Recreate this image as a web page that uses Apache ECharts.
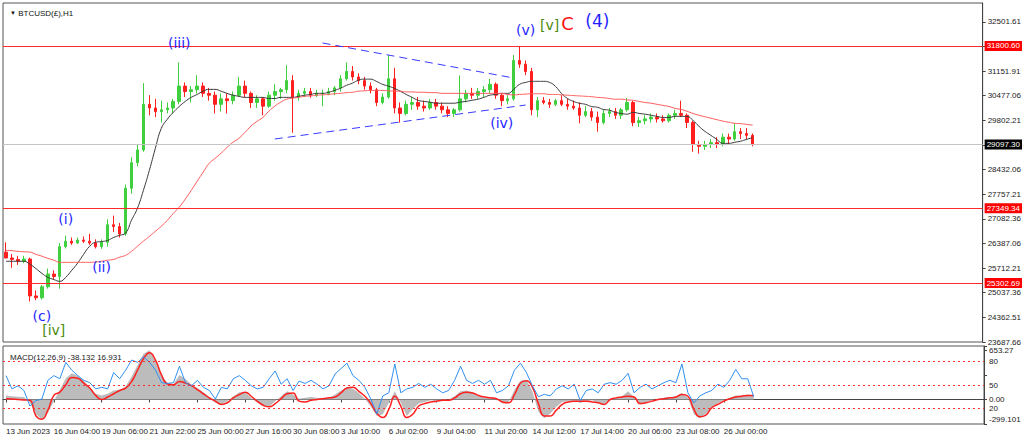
<!DOCTYPE html>
<html>
<head>
<meta charset="utf-8">
<title>BTCUSD(£),H1</title>
<script src="https://cdn.jsdelivr.net/npm/echarts@6/dist/echarts.min.js"></script>
<style>
  html, body { margin: 0; padding: 0; background: #fff; }
  #chart { width: 1024px; height: 441px; }
</style>
</head>
<body>
<div id="chart"></div>
<script>
// values, H1 bars grouped roughly 8 to a candle
var dateLabels = ['13 Jun 2023', '16 Jun 04:00', '19 Jun 06:00', '21 Jun 22:00', '25 Jun 00:00',
    '27 Jun 16:00', '30 Jun 08:00', '3 Jul 10:00', '6 Jul 02:00', '9 Jul 04:00', '11 Jul 20:00',
    '14 Jul 12:00', '17 Jul 14:00', '20 Jul 06:00', '23 Jul 08:00', '26 Jul 00:00'];

var opens = [26150, 25990, 25950, 25900, 25960, 24950, 24900, 25200, 25550, 25480,
    26300, 26450, 26400, 26480, 26450, 26400, 26300, 26420, 26900, 26850,
    26650, 27900, 28600, 28950, 30200, 30100, 30000, 30050, 30100, 30280,
    30700, 30550, 30600, 30700, 30500, 30450, 30200, 30350, 30300, 30450,
    30700, 30500, 30250, 30350, 30150, 30450, 30550, 30600, 30850, 30400,
    30500, 30550, 30450, 30500, 30500, 30550, 30650, 30900, 31100, 30950,
    30850, 30700, 30600, 30250, 30400, 30900, 30100, 29950, 30200, 30250,
    30150, 30100, 30250, 30150, 30050, 29950, 30050, 30350, 30500, 30450,
    30550, 30600, 30750, 30450, 30300, 30350, 31400, 31300, 31100, 30050,
    30300, 30250, 30200, 30300, 30200, 30150, 30100, 29900, 30000, 29850,
    29700, 29950, 30000, 29900, 30050, 30250, 29700, 29750, 29800, 29850,
    29800, 29750, 29900, 29950, 29900, 29700, 29100, 29050, 29100, 29150,
    29100, 29300, 29250, 29450, 29400, 29350];
var highs = [26420, 26100, 26050, 26050, 26000, 25100, 25250, 25700, 25650, 26400,
    26600, 26550, 26550, 26580, 26650, 26500, 26500, 27050, 27150, 26950,
    28000, 28750, 29100, 30780, 30450, 30350, 30300, 30250, 30350, 31350,
    30800, 30700, 31000, 30800, 30650, 30550, 30500, 30500, 30550, 30950,
    30850, 30550, 30450, 30400, 30550, 30750, 30650, 31270, 31000, 30600,
    30650, 30650, 30600, 30600, 30650, 30700, 31000, 31350, 31250, 31050,
    30950, 30800, 30650, 30500, 31550, 31200, 30250, 30300, 30400, 30400,
    30300, 30350, 30350, 30250, 30150, 30100, 30990, 30600, 30650, 30650,
    30700, 30900, 30800, 30500, 30450, 31550, 31800, 31400, 31200, 30400,
    30400, 30350, 30350, 30450, 30350, 30300, 30250, 30150, 30100, 30000,
    30050, 30100, 30100, 30100, 30380, 30300, 29850, 29900, 29950, 29950,
    29900, 29950, 30050, 30300, 29950, 29750, 29200, 29200, 29250, 29300,
    29400, 29400, 29680, 29550, 29550, 29400];
var lows = [25980, 25720, 25800, 25850, 24800, 24830, 24850, 25150, 25400, 25150,
    26250, 26350, 26380, 26400, 26350, 26250, 26240, 26300, 26700, 26550,
    26600, 27750, 28500, 28900, 29900, 29850, 29700, 29950, 29950, 30200,
    30400, 30250, 30500, 30400, 30300, 29950, 30000, 29950, 30200, 30400,
    30400, 30100, 30100, 29900, 30100, 30300, 30350, 30500, 29420, 30300,
    30400, 30380, 30400, 30150, 30450, 30450, 30550, 30850, 30850, 30750,
    30600, 30500, 30150, 30200, 30350, 29950, 29700, 29900, 30050, 30050,
    30000, 30050, 30050, 29950, 29850, 29850, 30000, 30250, 30350, 30350,
    30400, 30500, 30350, 30150, 30200, 30300, 31200, 31000, 29900, 29850,
    30200, 30100, 30150, 30150, 30050, 30050, 29680, 29850, 29750, 29450,
    29650, 29850, 29800, 29800, 30000, 29600, 29580, 29650, 29700, 29700,
    29700, 29700, 29800, 29850, 29550, 28900, 28850, 28950, 29000, 29000,
    29050, 29100, 29200, 29250, 29250, 29050];
var closes = [25990, 25950, 25900, 25960, 24950, 24900, 25200, 25550, 25480, 26300,
    26450, 26400, 26480, 26450, 26400, 26300, 26420, 26900, 26850, 26650,
    27900, 28600, 28950, 30200, 30100, 30000, 30050, 30100, 30280, 30700,
    30550, 30600, 30700, 30500, 30450, 30200, 30350, 30300, 30450, 30700,
    30500, 30250, 30350, 30150, 30450, 30550, 30600, 30850, 30400, 30500,
    30550, 30450, 30500, 30500, 30550, 30650, 30900, 31100, 30950, 30850,
    30700, 30600, 30250, 30400, 30900, 30100, 29950, 30200, 30250, 30150,
    30100, 30250, 30150, 30050, 29950, 30050, 30350, 30500, 30450, 30550,
    30600, 30750, 30450, 30300, 30350, 31400, 31300, 31100, 30050, 30300,
    30250, 30200, 30300, 30200, 30150, 30100, 29900, 30000, 29850, 29700,
    29950, 30000, 29900, 30050, 30250, 29700, 29750, 29800, 29850, 29800,
    29750, 29900, 29950, 29900, 29700, 29100, 29050, 29100, 29150, 29100,
    29300, 29250, 29450, 29400, 29350, 29097.3];

// black (fast) and red (slow) moving averages
var maFast = [25900, 25900, 25900, 25900, 25820, 25700, 25570, 25460, 25400, 25350,
    25460, 25650, 25850, 26090, 26310, 26420, 26440, 26470, 26550, 26610,
    26670, 27020, 27350, 27840, 28390, 28990, 29540, 29790, 29980, 30140,
    30280, 30390, 30470, 30560, 30610, 30610, 30560, 30500, 30450, 30420,
    30390, 30390, 30390, 30390, 30360, 30360, 30390, 30390, 30390, 30420,
    30450, 30470, 30500, 30500, 30530, 30580, 30640, 30720, 30780, 30860,
    30890, 30890, 30830, 30750, 30700, 30640, 30560, 30470, 30390, 30310,
    30280, 30260, 30230, 30230, 30230, 30230, 30260, 30280, 30310, 30340,
    30390, 30450, 30470, 30500, 30500, 30610, 30750, 30800, 30830, 30830,
    30830, 30800, 30690, 30500, 30360, 30280, 30230, 30200, 30140, 30120,
    30060, 30040, 29980, 29950, 29930, 29980, 29950, 29930, 29900, 29870,
    29840, 29840, 29870, 29870, 29870, 29760, 29600, 29460, 29350, 29240,
    29130, 29130, 29160, 29190, 29240, 29290];
var maSlow = [26200, 26190, 26170, 26160, 26150, 26090, 26040, 25980, 25930, 25870,
    25870, 25870, 25870, 25870, 25870, 25880, 25900, 25930, 25950, 26010,
    26060, 26170, 26310, 26450, 26580, 26720, 26860, 27020, 27210, 27380,
    27600, 27840, 28090, 28340, 28580, 28720, 28860, 29020, 29160, 29270,
    29430, 29600, 29730, 29840, 30010, 30150, 30260, 30340, 30370, 30390,
    30420, 30430, 30450, 30460, 30470, 30490, 30500, 30520, 30530, 30560,
    30570, 30580, 30580, 30580, 30570, 30560, 30560, 30540, 30540, 30530,
    30530, 30520, 30520, 30500, 30500, 30500, 30500, 30500, 30500, 30500,
    30500, 30500, 30500, 30500, 30470, 30460, 30470, 30480, 30490, 30490,
    30490, 30470, 30470, 30460, 30450, 30440, 30430, 30420, 30410, 30390,
    30380, 30360, 30340, 30340, 30320, 30310, 30280, 30250, 30230, 30200,
    30170, 30140, 30090, 30060, 30010, 29950, 29900, 29860, 29820, 29780,
    29740, 29710, 29680, 29670, 29650, 29630];

// lower pane: MACD histogram + signal, and the 0..100 oscillator (blue)
var macdHist = [50, 40, 35, 30, -40, -180, -240, -165, -20, 120,
    260, 320, 290, 230, 150, 70, 50, 70, 110, 120,
    160, 280, 420, 560, 600, 470, 290, 200, 190, 300,
    250, 180, 140, 90, 30, -40, -60, -20, 40, 90,
    90, 20, -40, -80, -90, -20, 40, 100, 60, 10,
    20, 30, 20, 10, 20, 60, 110, 150, 130, 80,
    10, -90, -200, -180, -40, 100, -40, -200, -120, -50,
    -30, -10, -20, -10, 0, 40, 100, 110, 90, 40,
    20, 30, 10, -50, -40, 120, 230, 240, 100, -150,
    -230, -170, -90, -30, -20, -20, -40, -20, -10, -50,
    -60, 10, 20, 40, 100, 30, -60, -40, -10, 10,
    20, 30, 40, 80, 20, -180, -230, -170, -110, -50,
    -10, 20, 50, 50, 60, 40];
var macdSignal = [10, 5, 0, -5, -10, -200, -240, -130, 50, 90,
    180, 270, 260, 200, 140, 50, 0, 30, 70, 110,
    140, 220, 360, 500, 570, 480, 300, 190, 180, 220,
    200, 170, 120, 70, 20, -20, -60, -40, 20, 60,
    90, 40, -20, -70, -90, -50, 10, 70, 80, -20,
    -30, -10, 0, 10, 20, 30, 80, 140, 150, 100,
    40, -50, -170, -220, -120, 40, -80, -220, -180, -80,
    -50, -30, -20, -10, -10, 20, 70, 90, 80, 50,
    30, 20, 10, -30, -40, 60, 200, 230, 150, -50,
    -200, -200, -130, -60, -30, -20, -20, -20, -30, -40,
    -60, 0, 20, 30, 40, 30, -50, -40, -20, 0,
    10, 20, 30, 60, 40, -120, -210, -190, -100, -60,
    -20, 10, 30, 40, 50, 50];
var oscLine = [62, 45, 49, 43, 23, 30, 32, 56, 62, 58,
    79, 69, 62, 56, 53, 45, 47, 45, 66, 58,
    69, 82, 79, 86, 79, 69, 53, 52, 53, 74,
    53, 49, 56, 47, 43, 32, 47, 45, 58, 62,
    56, 49, 45, 47, 58, 68, 51, 58, 43, 55,
    52, 56, 51, 45, 49, 64, 71, 78, 62, 56,
    47, 32, 13, 36, 40, 77, 40, 45, 47, 52,
    47, 51, 45, 40, 43, 56, 74, 56, 52, 56,
    51, 56, 40, 43, 49, 69, 78, 66, 49, 35,
    38, 36, 45, 49, 45, 51, 30, 43, 45, 40,
    51, 53, 51, 56, 65, 40, 47, 51, 45, 49,
    53, 56, 53, 77, 40, 27, 36, 40, 43, 51,
    47, 56, 70, 58, 58, 35];

var levels = [31800.60, 27349.34, 25302.69];
var lastPrice = 29097.30;
var oscLevels = [80, 50, 20];
var macdRange = [-299.101, 653.27];

// right scale labels as MT4 printed them; blanks sit under the level tags
var priceTicks = ['23687.66', '24362.51', '25037.36', '25712.21', '26387.06', '27082.36',
    '27757.21', '28432.06', '', '29802.21', '30477.06', '31151.91', '', '32501.61'];
var priceStep = 674.85;

// wave count labels: text, bar index, price
var waveText = ['(iii)', '(v)', '[v]', 'C', '(4)', '(iv)', '(i)', '(ii)', '(c)', '[iv]'];
var waveBar = [29, 87, 91, 94, 99, 83, 10, 16, 6, 8];
var wavePrice = [31880, 32236, 32373, 32401, 32483, 29688, 27058, 25743, 24400, 24016];

// triangle trend lines [bar, price]
var trendUpper = [[53, 31880], [85, 30921]];
var trendLower = [[45, 29250], [87, 30181]];

var BAR_SLOTS = 164; // includes the empty chart shift on the right

var FONT = 'Liberation Sans, DejaVu Sans, sans-serif';
var WAVE_FONT = 'DejaVu Sans, sans-serif';

var categories = [];
for (var i = 0; i < BAR_SLOTS; i++) categories.push('b' + i);

var candles = opens.map(function (o, i) {
    return [o, closes[i], lows[i], highs[i]];
});

var priceMin = parseFloat(priceTicks[0]);
var priceMax = priceMin + 339 * 27.4;

function isDateTick(index) {
    return index % 8 === 0 && index / 8 < dateLabels.length;
}

function waveStyle(t) {
    if (t === 'C') return { color: '#ff1010', fontSize: 18 };
    if (t === '(4)') return { color: '#1f1fff', fontSize: 17 };
    if (t.charAt(0) === '[') return { color: '#4b8b10', fontSize: 14 };
    return { color: '#2626ff', fontSize: 14 };
}

var wavePoints = waveText.map(function (t, i) {
    var st = waveStyle(t);
    return {
        coord: [waveBar[i], wavePrice[i]],
        symbol: 'circle',
        symbolSize: 1,
        itemStyle: { color: 'rgba(0,0,0,0)' },
        label: {
            show: true,
            position: 'inside',
            formatter: t,
            color: st.color,
            fontSize: st.fontSize,
            fontFamily: WAVE_FONT
        }
    };
});

var levelLines = levels.map(function (v) {
    return {
        yAxis: v,
        lineStyle: { color: '#ff2a2a', width: 1, type: 'solid' },
        label: {
            show: true, position: 'end', distance: 2,
            formatter: function (p) { return p.value.toFixed(2); },
            color: '#fff', backgroundColor: '#ff0000',
            fontSize: 8, fontFamily: FONT, padding: [1, 2]
        }
    };
});
levelLines.push({
    yAxis: lastPrice,
    lineStyle: { color: '#c4c4c4', width: 1, type: 'solid' },
    label: {
        show: true, position: 'end', distance: 2,
        formatter: function (p) { return p.value.toFixed(2); },
        color: '#fff', backgroundColor: '#000',
        fontSize: 8, fontFamily: FONT, padding: [1, 2]
    }
});
[trendUpper, trendLower].forEach(function (seg) {
    levelLines.push([
        { coord: seg[0], lineStyle: { color: '#3a3aff', width: 1, type: [8, 5] }, label: { show: false } },
        { coord: seg[1] }
    ]);
});

var chart = echarts.init(document.getElementById('chart'), null, { renderer: 'svg' });

chart.setOption({
    animation: false,
    backgroundColor: '#fff',
    title: [{
        text: '{a|▼} BTCUSD(£),H1',
        left: 5, top: 4,
        textStyle: { fontSize: 8, fontWeight: 'normal', color: '#111', fontFamily: FONT,
            rich: { a: { fontSize: 6, color: '#111' } } }
    }, {
        text: 'MACD(12,26,9) -38.132 16.931',
        left: 5, top: 348,
        textStyle: { fontSize: 8, fontWeight: 'normal', color: '#222', fontFamily: FONT }
    }],
    grid: [
        { left: 3, right: 40, top: 3, height: 339, show: true, borderColor: '#555', borderWidth: 1 },
        { left: 3, right: 40, top: 346, height: 78, show: true, borderColor: '#555', borderWidth: 1 }
    ],
    xAxis: [{
        type: 'category', gridIndex: 0, data: categories, boundaryGap: true,
        axisLine: { show: false }, axisTick: { show: false }, axisLabel: { show: false },
        splitLine: { show: false }
    }, {
        type: 'category', gridIndex: 1, data: categories, boundaryGap: true,
        axisLine: { show: true, lineStyle: { color: '#444' } },
        axisTick: { show: true, interval: isDateTick, alignWithLabel: true, length: 3,
            lineStyle: { color: '#444' } },
        axisLabel: {
            show: true, interval: isDateTick, align: 'left', margin: 3,
            fontSize: 8, color: '#222', fontFamily: FONT,
            formatter: function (v, idx) { return isDateTick(idx) ? dateLabels[idx / 8] : ''; }
        },
        splitLine: { show: false }
    }],
    yAxis: [{
        type: 'value', gridIndex: 0, position: 'right',
        min: priceMin, max: priceMax, interval: priceStep,
        axisLine: { show: true, lineStyle: { color: '#444' } },
        axisTick: { show: true, length: 3, lineStyle: { color: '#444' } },
        splitLine: { show: false },
        axisLabel: {
            margin: 5, fontSize: 8, color: '#222', fontFamily: FONT, showMaxLabel: false,
            formatter: function (v) {
                var k = Math.round((v - priceMin) / priceStep);
                if (Math.abs(v - (priceMin + k * priceStep)) > 0.5) return '';
                return priceTicks[k] || '';
            }
        }
    }, {
        type: 'value', gridIndex: 1, position: 'right',
        min: macdRange[0], max: macdRange[1], interval: -macdRange[0],
        axisLine: { show: true, lineStyle: { color: '#444' } },
        axisTick: { show: true, length: 3, lineStyle: { color: '#444' } },
        splitLine: { show: false },
        axisLabel: {
            margin: 5, fontSize: 8, color: '#222', fontFamily: FONT,
            formatter: function (v) {
                if (Math.abs(v - macdRange[1]) < 0.01) return '{top|' + macdRange[1].toFixed(2) + '}';
                if (Math.abs(v - macdRange[0]) < 0.01) return '{bot|' + macdRange[0].toFixed(3) + '}';
                if (Math.abs(v) < 0.01) return '0.00';
                return '';
            },
            rich: {
                top: { fontSize: 8, color: '#222', fontFamily: FONT, padding: [9, 0, 0, 0] },
                bot: { fontSize: 8, color: '#222', fontFamily: FONT, padding: [0, 0, 9, 0] }
            }
        }
    }, {
        type: 'value', gridIndex: 1, position: 'right',
        min: 0, max: 100, interval: 10,
        axisLine: { show: false }, axisTick: { show: false }, splitLine: { show: false },
        axisLabel: {
            margin: 5, fontSize: 8, color: '#222', fontFamily: FONT,
            formatter: function (v) { return oscLevels.indexOf(v) >= 0 ? String(v) : ''; }
        }
    }],
    series: [{
        type: 'candlestick', xAxisIndex: 0, yAxisIndex: 0,
        data: candles, barWidth: 3,
        itemStyle: { color: '#3fcf3f', color0: '#ff1f1f', borderColor: '#3fcf3f', borderColor0: '#ff1f1f', borderWidth: 1 },
        markLine: { symbol: 'none', silent: true, animation: false, data: levelLines },
        markPoint: { silent: true, animation: false, data: wavePoints }
    }, {
        type: 'line', xAxisIndex: 0, yAxisIndex: 0, data: maFast,
        showSymbol: false, smooth: true, lineStyle: { color: '#3a3a3a', width: 1 }, z: 3
    }, {
        type: 'line', xAxisIndex: 0, yAxisIndex: 0, data: maSlow,
        showSymbol: false, smooth: true, lineStyle: { color: '#ff5a5a', width: 1 }, z: 3
    }, {
        type: 'line', xAxisIndex: 1, yAxisIndex: 1, data: macdHist,
        showSymbol: false, lineStyle: { width: 0 },
        areaStyle: { color: '#bcbcbc', opacity: 1 }
    }, {
        type: 'line', xAxisIndex: 1, yAxisIndex: 1, data: macdSignal,
        showSymbol: false, smooth: true, lineStyle: { color: '#ff2020', width: 1.5 }
    }, {
        type: 'line', xAxisIndex: 1, yAxisIndex: 2, data: oscLine,
        showSymbol: false, lineStyle: { color: '#3190f0', width: 1 },
        markLine: {
            symbol: 'none', silent: true, animation: false,
            label: { show: false },
            lineStyle: { color: '#ff3030', width: 1, type: [2, 3] },
            data: oscLevels.map(function (v) { return { yAxis: v }; })
        }
    }]
});
</script>
</body>
</html>
